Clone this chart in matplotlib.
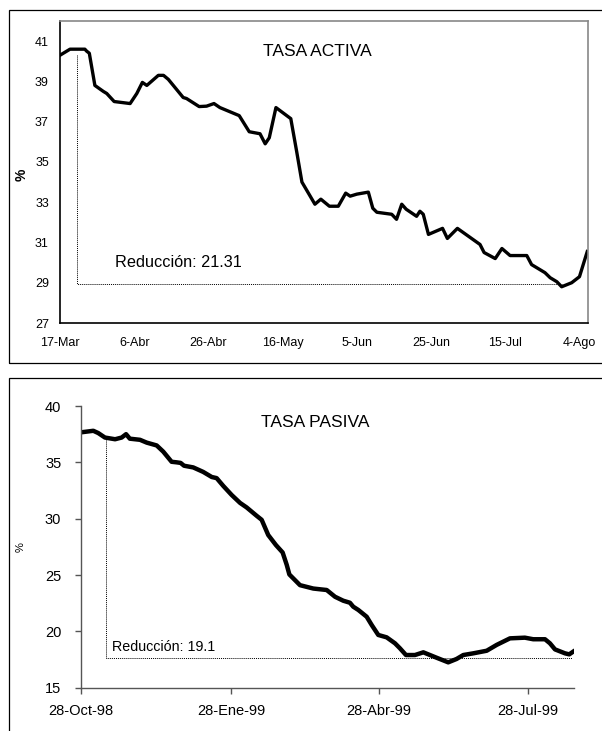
import numpy as np
import matplotlib
matplotlib.use('Agg')
import matplotlib.pyplot as plt
import matplotlib.dates as mdates
from matplotlib.patches import Rectangle

plt.rcParams['font.family'] = ['Liberation Sans', 'DejaVu Sans']

# Tasa activa: dias desde 17-Mar-1999 y valores (%)
activa_inicio = '1999-03-17'
activa_dias = [0, 2.7, 6.7, 7.2, 7.9, 9.4, 11.7, 12.6, 14.6, 18.9, 20.7, 22.2, 23.4,
               26.5, 27.9, 29.2, 33.2, 34.1, 37.5, 39.5, 41.5, 43.1, 48.3, 51, 53.9,
               55.3, 56.4, 58.2, 62.2, 63.8, 65.2, 68.7, 70.3, 72.6, 75, 77, 78.2, 80,
               83.1, 84.3, 85.4, 89.4, 90.7, 92.1, 93.3, 96.1, 97, 97.9, 99.3, 103.1,
               104.4, 107.1, 113.2, 114.3, 117.3, 119.1, 121.3, 125.8, 127.1, 130.7,
               132.1, 133.9, 135.2, 137.9, 140, 142.1]
activa_valores = [40.3, 40.6, 40.6, 40.5, 40.4, 38.8, 38.5, 38.4, 38.0, 37.9, 38.4, 38.95,
                  38.8, 39.3, 39.3, 39.1, 38.2, 38.15, 37.75, 37.77, 37.9, 37.7, 37.3,
                  36.5, 36.4, 35.9, 36.2, 37.7, 37.15, 35.5, 34.0, 32.9, 33.15, 32.8, 32.8,
                  33.45, 33.3, 33.4, 33.5, 32.7, 32.5, 32.4, 32.15, 32.9, 32.65, 32.3,
                  32.55, 32.4, 31.4, 31.7, 31.2, 31.7, 30.9, 30.5, 30.2, 30.7, 30.35,
                  30.35, 29.9, 29.5, 29.25, 29.05, 28.8, 29.0, 29.3, 30.55]
activa_ticks = ['17-Mar', '6-Abr', '26-Abr', '16-May', '5-Jun', '25-Jun', '15-Jul', '4-Ago']
activa_fin = 142.3
# linea de reduccion: dia, techo, piso, dia final
activa_red = [4.7, 40.3, 28.93, 135.2]

# Tasa pasiva: dias desde 28-Oct-1998 y valores (%)
pasiva_inicio = '1998-10-28'
pasiva_dias = [0, 7.7, 10.7, 14.8, 21, 25, 27.7, 30, 36.2, 40.3, 46.4, 50.4, 55.5, 58.6,
               61, 63.1, 68.7, 74.8, 80, 83, 87.1, 92.2, 97.3, 101.3, 107.4, 110.5, 114.5,
               119.2, 123.3, 125.8, 127.4, 129.8, 133.9, 142, 150.2, 155.3, 160.3, 164.4,
               166.4, 169.5, 174.6, 177.7, 181.7, 186.8, 191.9, 194.9, 198.6, 204.1,
               209.2, 217.3, 224.4, 229.5, 233.6, 239.7, 247.9, 254, 262.1, 271.2, 276.3,
               283.5, 286.5, 289.6, 295.7, 298.3, 300.7]
pasiva_valores = [37.66, 37.8, 37.6, 37.2, 37.05, 37.2, 37.5, 37.1, 37.0, 36.75, 36.5,
                  35.95, 35.05, 35.0, 34.95, 34.7, 34.55, 34.15, 33.7, 33.6, 32.9, 32.1,
                  31.4, 31.0, 30.26, 29.9, 28.55, 27.66, 27.0, 25.9, 25.05, 24.7, 24.1,
                  23.8, 23.67, 23.07, 22.72, 22.54, 22.19, 21.9, 21.3, 20.56, 19.68, 19.47,
                  18.94, 18.5, 17.9, 17.9, 18.14, 17.66, 17.25, 17.55, 17.9, 18.05, 18.28,
                  18.8, 19.38, 19.44, 19.3, 19.3, 18.94, 18.4, 18.05, 17.96, 18.2]
pasiva_tick_fechas = ['1998-10-28', '1999-01-28', '1999-04-28', '1999-07-28']
pasiva_ticks = ['28-Oct-98', '28-Ene-99', '28-Abr-99', '28-Jul-99']
pasiva_fin = 301.2
pasiva_red = [15.3, 37.0, 17.66, 300.0]

W, H = 602, 731
fig = plt.figure(figsize=(W / 100, H / 100), dpi=100)

# Marcos exteriores
fig.patches.append(Rectangle((9 / W, 1 - 363 / H), 1.0, (363 - 10) / H,
                             transform=fig.transFigure, fill=False, lw=0.9,
                             edgecolor='black', clip_on=False))
fig.patches.append(Rectangle((9 / W, -0.1), 1.0, 0.1 + 1 - 378 / H,
                             transform=fig.transFigure, fill=False, lw=0.9,
                             edgecolor='black', clip_on=False))

# ---- TASA ACTIVA ----
t0 = mdates.datestr2num(activa_inicio)
ax1 = fig.add_axes([60 / W, 1 - 323 / H, 528 / W, 302 / H])
ax1.plot(t0 + np.array(activa_dias), activa_valores, color='black', lw=2.4,
         solid_joinstyle='round')
d, top, bot, fin = activa_red
ax1.plot([t0 + d, t0 + d, t0 + fin], [top, bot, bot], color='black', lw=0.7,
         linestyle=(0, (1, 1)))
ax1.set_xlim(t0, t0 + activa_fin)
ax1.set_ylim(27, 42)
ax1.set_yticks(np.arange(27, 42, 2))
ax1.set_xticks(t0 + np.arange(len(activa_ticks)) * 20)
ax1.set_xticklabels(activa_ticks)
ax1.tick_params(axis='both', length=0, labelsize=9)
ax1.tick_params(axis='x', pad=10)
ax1.tick_params(axis='y', pad=8)
for s in ['top', 'right']:
    ax1.spines[s].set_color('#888888')
    ax1.spines[s].set_linewidth(1.2)
for s in ['left', 'bottom']:
    ax1.spines[s].set_color('black')
    ax1.spines[s].set_linewidth(1.2)
ax1.text(t0 + 69.3, 40.25, 'TASA ACTIVA', fontsize=12.5, ha='center', va='baseline')
ax1.text(t0 + 14.8, 29.8, 'Reducción: 21.31', fontsize=11.7, ha='left', va='baseline')
fig.text(21.5 / W, 1 - 175 / H, '%', rotation=90, fontsize=10, fontweight='bold',
         ha='center', va='center')

# ---- TASA PASIVA ----
p0 = mdates.datestr2num(pasiva_inicio)
ax2 = fig.add_axes([80.7 / W, 1 - 687.7 / H, 493.3 / W, 281.7 / H])
ax2.plot(p0 + np.array(pasiva_dias), pasiva_valores, color='black', lw=3.2,
         solid_joinstyle='round')
d, top, bot, fin = pasiva_red
ax2.plot([p0 + d, p0 + d, p0 + fin], [top, bot, bot], color='black', lw=0.7,
         linestyle=(0, (1, 1)))
ax2.set_xlim(p0, p0 + pasiva_fin)
ax2.set_ylim(15, 40)
ax2.set_yticks(np.arange(15, 41, 5))
ax2.set_xticks([mdates.datestr2num(f) for f in pasiva_tick_fechas])
ax2.set_xticklabels(pasiva_ticks)
ax2.tick_params(axis='both', length=4, width=1, color='#555555', labelsize=10.5,
                direction='out')
ax2.tick_params(axis='x', pad=8)
ax2.tick_params(axis='y', pad=10)
ax2.spines['top'].set_visible(False)
ax2.spines['right'].set_visible(False)
for s in ['left', 'bottom']:
    ax2.spines[s].set_color('#555555')
    ax2.spines[s].set_linewidth(1)
ax2.text(p0 + 143, 38.5, 'TASA PASIVA', fontsize=12.5, ha='center', va='center')
ax2.text(p0 + 19.1, 18.3, 'Reducción: 19.1', fontsize=10.3, ha='left', va='baseline')
fig.text(21 / W, 1 - 547 / H, '%', rotation=90, fontsize=8, ha='center', va='center')

fig.savefig('out.png', dpi=100)
